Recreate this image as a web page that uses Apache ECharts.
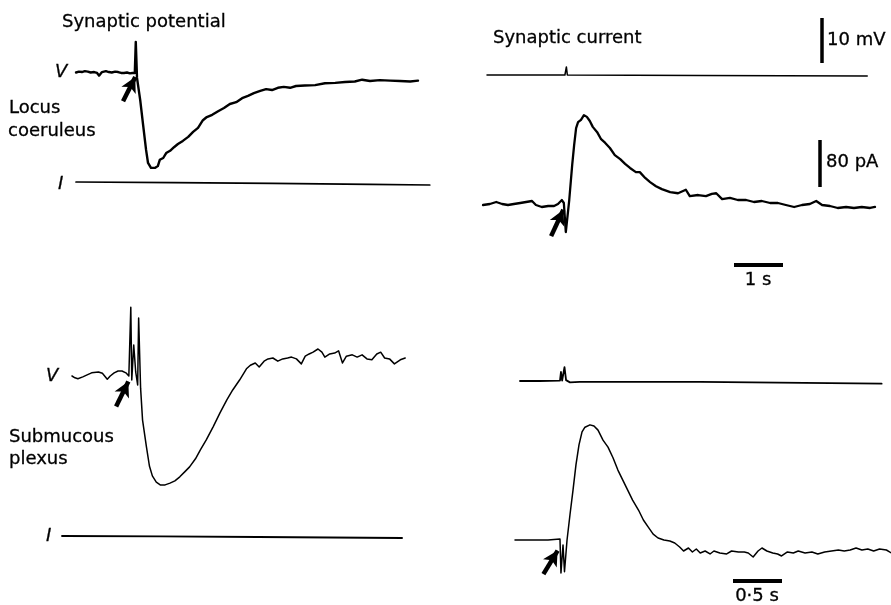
<!DOCTYPE html>
<html>
<head>
<meta charset="utf-8">
<script src="https://cdn.jsdelivr.net/npm/echarts@6.0.0/dist/echarts.min.js"></script>
<style>html,body{margin:0;padding:0;background:#fff}#c{width:891px;height:605px}</style>
</head>
<body>
<div id="c"></div>
<script>
// ---------- DATA (time in s, voltage in mV relative to rest, current in pA relative to holding) ----------
// Locus coeruleus, synaptic potential (V)
const lcV = [[0,0],[0.06,0.2],[0.12,0.1],[0.18,0.3],[0.24,0.2],[0.30,0],[0.37,0.1],[0.43,-0.1],[0.47,-0.7],[0.50,-0.5],[0.53,0.1],[0.57,0.4],[0.61,0.3],[0.67,0.1],[0.73,0],[0.80,0.2],[0.86,0.1],[0.92,-0.1],[0.98,-0.1],[1.04,0],[1.10,-0.2],[1.15,-0.1],[1.20,-0.1],[1.22,6.8],[1.245,-1.2],[1.31,-6.1],[1.37,-11.7],[1.43,-17.2],[1.47,-20.1],[1.53,-21.2],[1.61,-21.2],[1.67,-20.8],[1.71,-19.4],[1.78,-19.0],[1.84,-17.9],[1.92,-17.4],[2.0,-16.6],[2.08,-15.9],[2.18,-15.2],[2.29,-14.3],[2.39,-13.2],[2.49,-12.3],[2.59,-10.6],[2.67,-9.9],[2.78,-9.4],[2.90,-8.6],[3.02,-7.9],[3.14,-7.0],[3.27,-6.6],[3.39,-5.7],[3.51,-5.2],[3.63,-4.6],[3.76,-4.1],[3.88,-3.7],[4.0,-3.9],[4.12,-3.4],[4.24,-3.2],[4.37,-3.4],[4.49,-3.0],[4.67,-2.9],[4.88,-2.8],[5.08,-2.4],[5.29,-2.3],[5.49,-2.1],[5.69,-2.0],[5.84,-1.6],[6.0,-1.9],[6.2,-1.7],[6.41,-1.8],[6.61,-1.9],[6.82,-2.0],[6.98,-1.8]];
// Locus coeruleus, injected current (I)
const lcI = [[0,0],[2.0,-1],[4.0,-2.5],[6.0,-4],[7.22,-5.1]];
// Locus coeruleus, clamp voltage during synaptic current
const lcClampV = [[0,0],[1.59,0],[1.62,1.8],[1.64,0],[4.35,-0.1],[7.76,-0.2]];
// Locus coeruleus, synaptic current
const lcCur = [[0,0],[0.14,1.7],[0.27,5.1],[0.39,1.7],[0.51,0],[0.63,1.7],[0.76,3.4],[0.88,5.1],[1.0,6.8],[1.08,0],[1.2,-3.4],[1.33,-1.7],[1.45,-1.7],[1.53,1.7],[1.61,8.5],[1.65,3.4],[1.69,-46],[1.76,8.5],[1.82,68],[1.86,102],[1.9,131],[1.94,141],[2.0,145],[2.06,153],[2.12,150],[2.18,143],[2.24,133],[2.33,124],[2.41,112],[2.49,106],[2.59,97],[2.69,85],[2.80,78],[2.90,70],[3.0,63],[3.12,56],[3.2,56],[3.31,46],[3.41,39],[3.53,32],[3.65,27],[3.82,22],[3.98,20],[4.14,26],[4.22,15],[4.39,17],[4.55,15],[4.67,19],[4.76,20],[4.88,10],[5.04,12],[5.20,8.5],[5.37,8.5],[5.53,5.1],[5.69,6.8],[5.86,3.4],[6.02,3.4],[6.18,0],[6.35,-3.4],[6.51,0],[6.67,1.7],[6.8,6.8],[6.92,0],[7.08,-1.7],[7.24,-5.1],[7.41,-3.4],[7.57,-5.1],[7.73,-3.4],[7.90,-5.1],[8.0,-3.4]];
// Submucous plexus, synaptic potential (V)
const smV = [[0,0],[0.03,-0.4],[0.06,-0.6],[0.11,-0.2],[0.16,0.3],[0.2,0.7],[0.27,0.9],[0.31,0.6],[0.36,-0.7],[0.39,0],[0.43,0.7],[0.47,1.1],[0.51,1.1],[0.55,0.7],[0.58,0],[0.59,-0.4],[0.60,15.3],[0.61,-0.9],[0.63,6.9],[0.65,0.9],[0.67,-2],[0.68,12.9],[0.70,-2.7],[0.72,-9.8],[0.76,-15.8],[0.79,-20],[0.82,-22.2],[0.86,-23.6],[0.9,-24.2],[0.95,-24.2],[1.0,-23.8],[1.05,-23.3],[1.1,-22.4],[1.15,-21.3],[1.2,-20.2],[1.26,-18.4],[1.31,-16.4],[1.37,-14.2],[1.44,-11.3],[1.51,-8.2],[1.58,-5.3],[1.64,-3.1],[1.71,-0.9],[1.78,1.6],[1.82,2.4],[1.87,2.9],[1.91,2],[1.96,3.3],[2.0,3.8],[2.05,4],[2.1,3.3],[2.15,3.8],[2.2,4],[2.24,4.2],[2.29,3.8],[2.34,2.7],[2.38,4.4],[2.42,4.9],[2.46,5.3],[2.51,6],[2.55,5.3],[2.58,4.2],[2.63,4.9],[2.68,5.1],[2.72,5.6],[2.76,2.9],[2.8,4.4],[2.86,4.7],[2.91,4.2],[2.96,4.7],[3.01,3.8],[3.06,3.6],[3.11,4.9],[3.15,5.3],[3.19,4],[3.24,3.8],[3.29,2.7],[3.35,3.6],[3.40,4]];
// Submucous plexus, injected current (I)
const smI = [[0,0],[1.0,-0.8],[2.0,-1.7],[3.47,-3.4]];
// Submucous plexus, clamp voltage during synaptic current
const smClampV = [[0,0],[0.2,0],[0.408,0.1],[0.418,2],[0.43,0.1],[0.454,3.1],[0.47,0.2],[0.51,-0.3],[0.61,-0.2],[1.84,-0.2],[3.69,-0.6]];
// Submucous plexus, synaptic current
const smCur = [[0,0],[0.153,0],[0.296,0],[0.316,-3.4],[0.337,0],[0.459,1.7],[0.469,-56],[0.49,-8.5],[0.505,-54],[0.531,0],[0.561,43],[0.592,85],[0.622,128],[0.653,162],[0.684,184],[0.714,192],[0.765,196],[0.806,194],[0.847,187],[0.898,170],[0.949,158],[1.0,140],[1.05,119],[1.10,102],[1.15,85],[1.20,68],[1.26,51],[1.31,34],[1.36,22],[1.41,10],[1.46,3.4],[1.52,0],[1.58,-1.7],[1.63,-5.1],[1.68,-11.9],[1.72,-18.7],[1.77,-13.6],[1.81,-20.4],[1.85,-15.3],[1.89,-22.1],[1.94,-18.7],[1.99,-23.8],[2.03,-18.7],[2.09,-22.1],[2.16,-23.8],[2.21,-18.7],[2.28,-20.4],[2.34,-20.4],[2.38,-22.1],[2.43,-28.9],[2.48,-18.7],[2.52,-13.6],[2.57,-18.7],[2.63,-22.1],[2.68,-23.8],[2.72,-27.2],[2.78,-20.4],[2.84,-22.1],[2.89,-18.7],[2.96,-22.1],[3.03,-20.4],[3.09,-23.8],[3.16,-20.4],[3.23,-18.7],[3.30,-17],[3.36,-18.7],[3.42,-17],[3.48,-13.6],[3.54,-17],[3.60,-15.3],[3.66,-18.7],[3.72,-15.3],[3.79,-17],[3.84,-22.1]];
// Stimulus arrows: [tail, tip] in each trace's own units
const arrowLcV = [[0.96,-6.4],[1.21,-1.0]];
const arrowLcCur = [[1.39,-53],[1.64,-8]];
const arrowSmV = [[0.45,-6.8],[0.575,-1.2]];
const arrowSmCur = [[0.29,-58],[0.435,-18]];
// Calibration bars
const barVoltage = 10;   // mV
const barCurrent = 80;   // pA
const barTimeTop = 1;    // s
const barTimeBottom = 0.5; // s
const barLabels = ['10 mV','80 pA','1 s','0·5 s'];
const textLabels = ['Synaptic potential','Synaptic current','Locus','coeruleus','Submucous','plexus'];

// ---------- LAYOUT ----------
const W = 891, H = 605;
const PX_MV = 4.5, PX_PA = 0.5875, PX_S_TOP = 49, PX_S_BOT = 98;
const traces = [
  {data: lcV,      ox: 76,  oy: 72.5, sx: PX_S_TOP, sy: PX_MV, w: 2.4, arrow: arrowLcV},
  {data: lcI,      ox: 76,  oy: 182,  sx: PX_S_TOP, sy: PX_PA, w: 1.7},
  {data: lcClampV, ox: 487, oy: 75,   sx: PX_S_TOP, sy: PX_MV, w: 1.5},
  {data: lcCur,    ox: 483, oy: 205,  sx: PX_S_TOP, sy: PX_PA, w: 2.3, arrow: arrowLcCur},
  {data: smV,      ox: 72,  oy: 376,  sx: PX_S_BOT, sy: PX_MV, w: 1.5, arrow: arrowSmV},
  {data: smI,      ox: 62,  oy: 536,  sx: PX_S_BOT, sy: PX_PA, w: 1.8},
  {data: smClampV, ox: 520, oy: 381,  sx: PX_S_BOT, sy: PX_MV, w: 1.8},
  {data: smCur,    ox: 515, oy: 540,  sx: PX_S_BOT, sy: PX_PA, w: 1.5, arrow: arrowSmCur}
];

const grids = [], xAxes = [], yAxes = [], series = [];
traces.forEach((t, i) => {
  grids.push({left: 0, top: 0, width: W, height: H, show: false});
  xAxes.push({type: 'value', gridIndex: i, show: false, min: -t.ox / t.sx, max: (W - t.ox) / t.sx, splitLine: {show: false}});
  yAxes.push({type: 'value', gridIndex: i, show: false, min: (t.oy - H) / t.sy, max: t.oy / t.sy, splitLine: {show: false}});
  const s = {
    type: 'line', xAxisIndex: i, yAxisIndex: i, data: t.data, showSymbol: false, symbol: 'none',
    lineStyle: {color: '#000', width: t.w, join: 'round', cap: 'round'}, silent: true, animation: false
  };
  if (t.arrow) {
    s.markLine = {
      silent: true, animation: false, symbol: ['none', 'arrow'], symbolSize: [12, 15],
      lineStyle: {color: '#000', width: 4.5, type: 'solid', cap: 'butt'}, label: {show: false},
      data: [[{coord: t.arrow[0]}, {coord: t.arrow[1]}]]
    };
  }
  series.push(s);
});

// calibration bars drawn in the units of the trace they belong to
function bar(idx, pts, w) {
  series.push({type: 'line', xAxisIndex: idx, yAxisIndex: idx, data: pts, showSymbol: false, symbol: 'none',
    lineStyle: {color: '#000', width: w, cap: 'butt'}, silent: true, animation: false});
}
// 10 mV bar (clamp-voltage grid of top row), anchored at x=822px, bottom at 63px
{ const t = traces[2]; const x = (822 - t.ox) / t.sx, y0 = (t.oy - 63) / t.sy; bar(2, [[x, y0], [x, y0 + barVoltage]], 3.5); }
// 80 pA bar (current grid, top row), anchored at x=820px, bottom at 187px
{ const t = traces[3]; const x = (820 - t.ox) / t.sx, y0 = (t.oy - 187) / t.sy; bar(3, [[x, y0], [x, y0 + barCurrent]], 3.5); }
// 1 s bar (current grid, top row), starts at x=734px, y=265px
{ const t = traces[3]; const x0 = (734 - t.ox) / t.sx, y = (t.oy - 265) / t.sy; bar(3, [[x0, y], [x0 + barTimeTop, y]], 4); }
// 0.5 s bar (current grid, bottom row), starts at x=733px, y=581px
{ const t = traces[7]; const x0 = (733 - t.ox) / t.sx, y = (t.oy - 581) / t.sy; bar(7, [[x0, y], [x0 + barTimeBottom, y]], 4); }

const FONT = '"DejaVu Sans", "Liberation Sans", Arial, sans-serif';
function txt(text, x, y, size, italic, align) {
  return {type: 'text', x: x, y: y, silent: true,
    style: {text: text, fill: '#000', font: (italic ? 'italic ' : '') + size + 'px ' + FONT,
      textAlign: align || 'left', textVerticalAlign: 'middle', stroke: '#000', lineWidth: 0.3}};
}
const graphics = [
  txt(textLabels[0], 62, 22, 18),
  txt(textLabels[1], 493, 38, 18),
  txt(textLabels[2], 9, 108, 18),
  txt(textLabels[3], 8, 131, 18),
  txt(textLabels[4], 9, 437, 18),
  txt(textLabels[5], 9, 459, 18),
  txt('V', 55, 72, 18, true),
  txt('I', 58, 184, 18, true),
  txt('V', 46, 376, 18, true),
  txt('I', 46, 536, 18, true),
  txt(barLabels[0], 827, 40, 18),
  txt(barLabels[1], 826, 162, 18),
  txt(barLabels[2], 758, 280, 18, false, 'center'),
  txt(barLabels[3], 757, 596, 18, false, 'center')
];

const chart = echarts.init(document.getElementById('c'), null, {renderer: 'canvas', width: W, height: H});
chart.setOption({
  animation: false, backgroundColor: '#fff',
  grid: grids, xAxis: xAxes, yAxis: yAxes, series: series, graphic: graphics
});
</script>
</body>
</html>
